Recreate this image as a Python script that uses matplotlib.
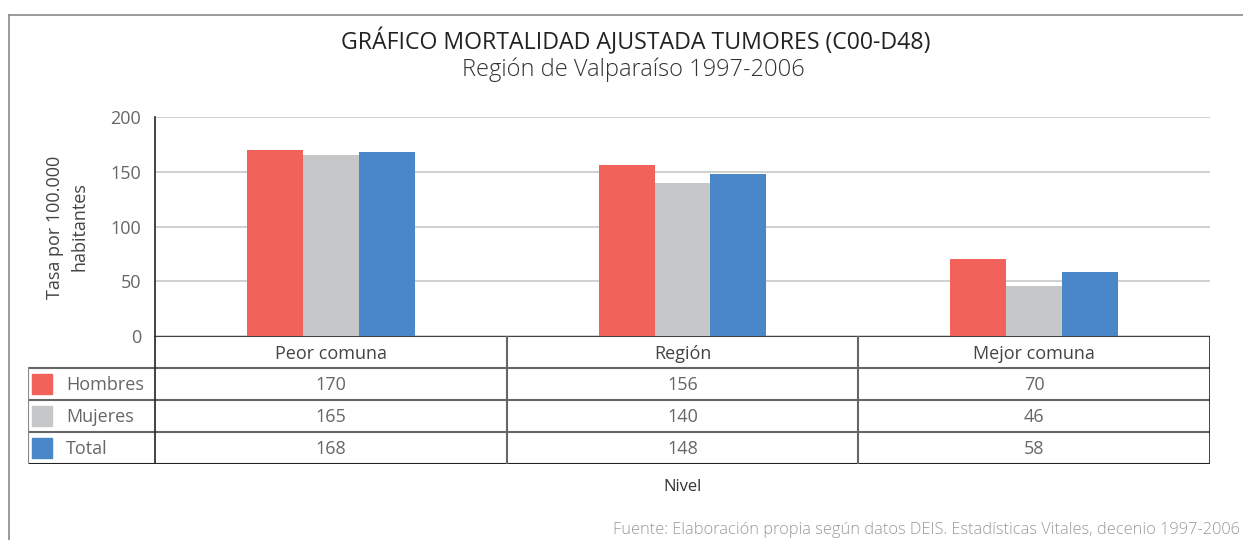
import matplotlib.pyplot as plt
import numpy as np

plt.rcParams['font.family'] = ['Open Sans', 'DejaVu Sans']

# datos
niveles = ['Peor comuna', 'Región', 'Mejor comuna']
series = ['Hombres', 'Mujeres', 'Total']
hombres = [170, 156, 70]
mujeres = [165, 140, 46]
total = [168, 148, 58]
valores = [hombres, mujeres, total]
colores = ['#F0625A', '#C6C7C9', '#4A87C8']
yticks = [0, 50, 100, 150, 200]

W, H = 1243, 540
fig = plt.figure(figsize=(W / 100, H / 100), dpi=100)

def fx(px):
    return px / W

def fy(py):
    return 1 - py / H

# marco exterior
fig.add_artist(plt.Line2D([fx(9), fx(9)], [fy(15), 0], color='#8a8a8a', lw=1.2))
fig.add_artist(plt.Line2D([fx(9), 1], [fy(15), fy(15)], color='#8a8a8a', lw=1.2))

fig.text(fx(636), fy(42), 'GRÁFICO MORTALIDAD AJUSTADA TUMORES (C00-D48)',
         ha='center', va='center', fontsize=16.7, color='#222222')
fig.text(fx(633), fy(70), 'Región de Valparaíso 1997-2006',
         ha='center', va='center', fontsize=17, color='#333333', fontweight='light')

# grafico de barras
L, R, T, B = 155, 1210, 117, 336
ax = fig.add_axes([fx(L), fy(B), fx(R - L), fy(T) - fy(B)])
x = np.arange(len(niveles))
w = 0.159
for i, (s, v, c) in enumerate(zip(series, valores, colores)):
    ax.bar(x + (i - 1) * w, v, width=w, color=c, zorder=3, label=s)
ax.set_xlim(-0.5, 2.5)
ax.set_ylim(0, 200)
ax.set_yticks(yticks)
ax.set_xticks([])
ax.yaxis.grid(True, color='#c8c8c8', lw=1.2, zorder=0)
for sp in ['top', 'right', 'bottom']:
    ax.spines[sp].set_visible(False)
ax.spines['left'].set_color('#222222')
ax.spines['left'].set_linewidth(1.2)
ax.tick_params(axis='y', length=0, pad=10, labelsize=13, labelcolor='#666666')

# etiqueta eje y
fig.text(fx(55), fy(227), 'Tasa por 100.000', rotation=90, ha='center', va='center',
         fontsize=13, color='#444444')
fig.text(fx(80), fy(227), 'habitantes', rotation=90, ha='center', va='center',
         fontsize=13, color='#444444')

# tabla de datos
TL, TB = 28, 464
tax = fig.add_axes([fx(TL), fy(TB), fx(R - TL), fy(B) - fy(TB)])
left = -0.5 - (L - TL) / ((R - L) / 3)
tax.set_xlim(left, 2.5)
tax.set_ylim(4, 0)
tax.axis('off')
lc = '#666666'
tax.plot([-0.5, 2.5], [0, 0], color='#444444', lw=1.5)
for r in [1, 2, 3]:
    tax.plot([left, 2.5], [r, r], color=lc, lw=1.5)
tax.plot([left, 2.5], [4, 4], color='#222222', lw=1.5)
tax.plot([-0.5, -0.5], [0, 4], color='#222222', lw=1.2)
for xv in [0.5, 1.5]:
    tax.plot([xv, xv], [0, 4], color=lc, lw=1.5)
tax.plot([2.5, 2.5], [0, 4], color='#222222', lw=1.2)
tax.plot([left, left], [1, 4], color='#888888', lw=1.5)

for j, n in enumerate(niveles):
    tax.text(j, 0.55, n, ha='center', va='center', fontsize=13, color='#444444')
for i, (s, v, c) in enumerate(zip(series, valores, colores)):
    tax.add_patch(plt.Rectangle((left + 0.012, i + 1.18), 0.055, 0.64, color=c))
    tax.text(left + 0.108, i + 1.53, s, ha='left', va='center', fontsize=13, color='#666666')
    for j, val in enumerate(v):
        tax.text(j, i + 1.53, str(val), ha='center', va='center', fontsize=13, color='#666666')

fig.text(fx(683), fy(487), 'Nivel', ha='center', va='center', fontsize=12, color='#333333')
fig.text(fx(1240), fy(530), 'Fuente: Elaboración propia según datos DEIS. Estadísticas Vitales, decenio 1997-2006',
         ha='right', va='center', fontsize=11.8, color='#999999', fontweight='light')

fig.savefig('out.png', dpi=100)
